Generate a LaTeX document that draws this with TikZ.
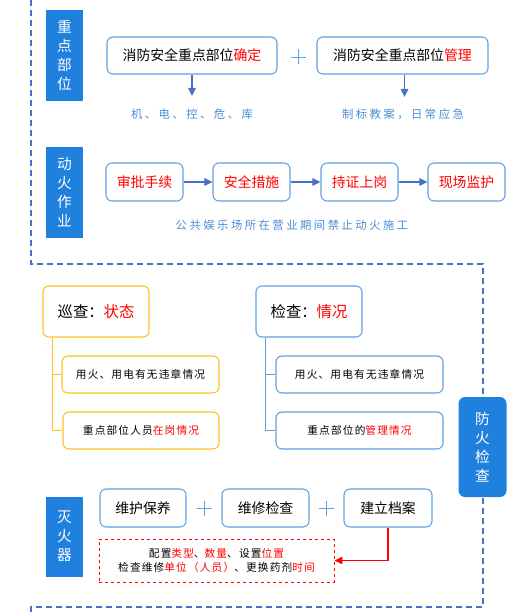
\documentclass[tikz,border=0pt]{standalone}
\usepackage{fontspec}
\setmainfont{Noto Sans CJK SC}
\newfontfamily\spA[LetterSpace=22]{Noto Sans CJK SC}
\newfontfamily\spB[LetterSpace=11]{Noto Sans CJK SC}
\usetikzlibrary{arrows.meta}
\definecolor{lblue}{RGB}{32,128,222}
\definecolor{bblue}{RGB}{95,160,225}
\definecolor{ablue}{RGB}{68,114,196}
\definecolor{tblue}{RGB}{75,140,210}
\definecolor{yel}{RGB}{255,195,30}
\definecolor{rd}{RGB}{255,0,0}
\tikzset{
  lbl/.style={fill=lblue,text=white,inner sep=0pt,align=center,font=\fontsize{11}{14.3}\selectfont},
  bx/.style={draw=bblue,line width=0.8pt,rounded corners=4.5pt,inner sep=0pt,font=\fontsize{10.4}{12}\selectfont},
  ybx/.style={bx,draw=yel},
  sub/.style={font=\spB\fontsize{8}{10.5}\selectfont},
  note/.style={text=tblue,inner sep=0pt,font=\spA\fontsize{8.5}{10}\selectfont},
  arr/.style={draw=ablue,line width=1.2pt,-{Triangle[width=5.5pt,length=6pt]}},
  dsh/.style={draw=ablue,line width=1pt,dash pattern=on 4.5pt off 3pt},
  plus/.style={draw=bblue,line width=0.7pt},
  tree/.style={line width=0.8pt}
}
\begin{document}
\begin{tikzpicture}[x=0.75pt,y=-0.75pt]
\useasboundingbox (0,0) rectangle (509,616);
% dashed frame
\draw[dsh] (31,0) -- (31,264) -- (483,264) -- (483,607) -- (31,607) -- (31,616);
% section 1
\node[lbl,minimum width=37*0.75pt,minimum height=91*0.75pt] (L1) at (64.5,55.5) {重\\点\\部\\位};
\node[bx,minimum width=170*0.75pt,minimum height=37*0.75pt] (A1) at (192,55.5) {消防安全重点部位\textcolor{rd}{确定}};
\node[bx,minimum width=171*0.75pt,minimum height=37*0.75pt] (A2) at (402.5,55.5) {消防安全重点部位\textcolor{rd}{管理}};
\draw[plus] (290.5,57) -- (305.5,57) (298,49.5) -- (298,64.5);
\node[note] (T1) at (192,114) {机、电、控、危、库};
\node[note] (T2) at (403,114) {制标教案，日常应急};
\coordinate (a1e) at (192,96);
\coordinate (a2e) at (404.5,97);
\draw[arr] (A1.south) -- (a1e);
\draw[arr] (A2.south -| a2e) -- (a2e);
% section 2
\node[lbl,minimum width=37*0.75pt,minimum height=91*0.75pt] (L2) at (64.5,192.5) {动\\火\\作\\业};
\node[bx,minimum width=77*0.75pt,minimum height=38*0.75pt,text=rd] (B1) at (144.5,182) {审批手续};
\node[bx,minimum width=77*0.75pt,minimum height=38*0.75pt,text=rd] (B2) at (251.5,182) {安全措施};
\node[bx,minimum width=77*0.75pt,minimum height=38*0.75pt,text=rd] (B3) at (359.5,182) {持证上岗};
\node[bx,minimum width=77*0.75pt,minimum height=38*0.75pt,text=rd] (B4) at (466.5,182) {现场监护};
\draw[arr] (B1) -- (B2);
\draw[arr] (B2) -- (B3);
\draw[arr] (B3) -- (B4);
\node[note] (T3) at (292,225) {公共娱乐场所在营业期间禁止动火施工};
% section 3
\node[ybx,minimum width=106*0.75pt,minimum height=51*0.75pt,font=\fontsize{11.5}{13}\selectfont] (P1) at (96,311.5) {巡查：\textcolor{rd}{状态}};
\node[bx,minimum width=106*0.75pt,minimum height=51*0.75pt,font=\fontsize{11.5}{13}\selectfont] (P2) at (309,311.5) {检查：\textcolor{rd}{情况}};
\node[ybx,sub,minimum width=157*0.75pt,minimum height=37*0.75pt] (Y1) at (140.5,374.5) {用火、用电有无违章情况};
\node[ybx,sub,minimum width=156*0.75pt,minimum height=37*0.75pt] (Y2) at (141,430.5) {重点部位人员\textcolor{rd}{在岗情况}};
\node[bx,sub,minimum width=167*0.75pt,minimum height=37*0.75pt] (Q1) at (359.5,374.5) {用火、用电有无违章情况};
\node[bx,sub,minimum width=167*0.75pt,minimum height=37*0.75pt] (Q2) at (359.5,430.5) {重点部位的\textcolor{rd}{管理情况}};
\coordinate (p1a) at ([xshift=10*0.75pt]P1.south west);
\coordinate (p2a) at ([xshift=10*0.75pt]P2.south west);
\draw[tree,draw=yel] (p1a) |- (Y1.west);
\draw[tree,draw=yel] (p1a) |- (Y2.west);
\draw[tree,draw=bblue] (p2a) |- (Q1.west);
\draw[tree,draw=bblue] (p2a) |- (Q2.west);
\node[lbl,rounded corners=5pt,minimum width=48*0.75pt,minimum height=100*0.75pt] (L3) at (482.5,447) {防\\火\\检\\查};
% section 4
\node[lbl,minimum width=37*0.75pt,minimum height=80*0.75pt] (L4) at (64.5,536.5) {灭\\火\\器};
\node[bx,minimum width=86*0.75pt,minimum height=38*0.75pt] (C1) at (143,508) {维护保养};
\node[bx,minimum width=87*0.75pt,minimum height=38*0.75pt] (C2) at (265.5,508) {维修检查};
\node[bx,minimum width=88*0.75pt,minimum height=38*0.75pt] (C3) at (388,508) {建立档案};
\draw[plus] (196.5,508) -- (211.5,508) (204,500.5) -- (204,515.5);
\draw[plus] (318.5,508) -- (333.5,508) (326,500.5) -- (326,515.5);
\node[draw=rd,dash pattern=on 2.5pt off 2pt,line width=0.7pt,sub,align=center,minimum width=235*0.75pt,minimum height=43*0.75pt] (R) at (216.5,560.5) {配置\textcolor{rd}{类型}、\textcolor{rd}{数量}、设置\textcolor{rd}{位置}\\检查维修\textcolor{rd}{单位（人员）}、更换药剂\textcolor{rd}{时间}};
\draw[draw=rd,line width=1.2pt,-{Triangle[width=5.5pt,length=6pt]}] (C3.south) |- (R.east);
\end{tikzpicture}
\end{document}
